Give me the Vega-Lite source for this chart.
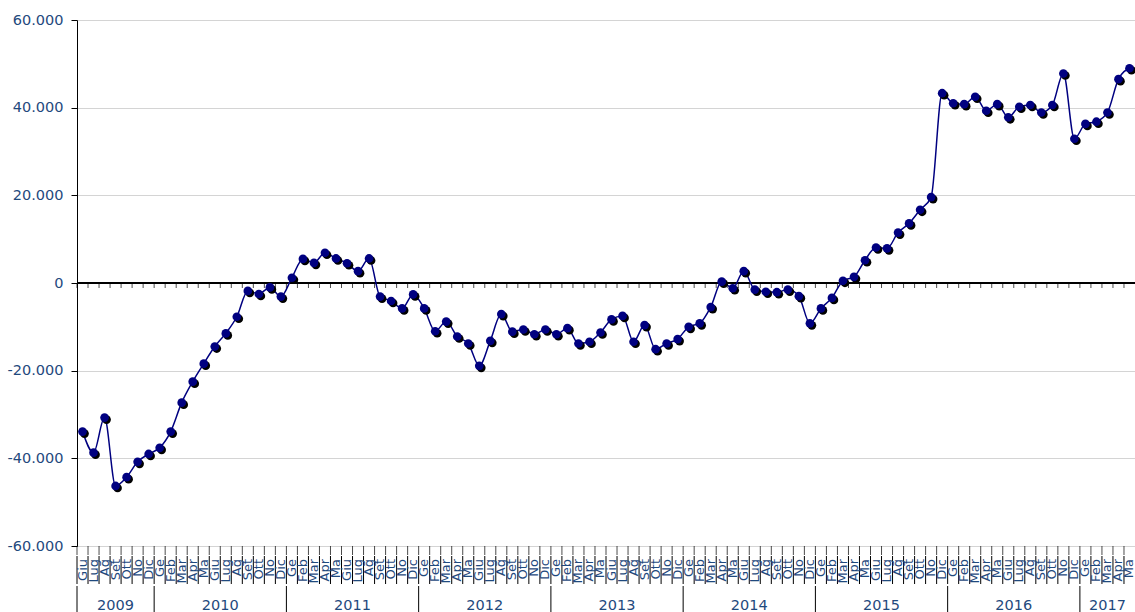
{
  "$schema": "https://vega.github.io/schema/vega-lite/v6.json",
  "padding": {"left": 7, "top": 12, "right": 0, "bottom": 0},
  "background": "white",
  "config": {
    "view": {"stroke": null},
    "locale": {"number": {"decimal": ",", "thousands": ".", "grouping": [3], "currency": ["€", ""], "minus": "-"}},
    "concat": {"spacing": 0}
  },
  "datasets": {
    "serie": [
      {"i": 0, "anno": "2009", "mese": "Giu", "v": -33900},
      {"i": 1, "anno": "2009", "mese": "Lug", "v": -38700},
      {"i": 2, "anno": "2009", "mese": "Ag", "v": -30700},
      {"i": 3, "anno": "2009", "mese": "Set", "v": -46300},
      {"i": 4, "anno": "2009", "mese": "Ott", "v": -44300},
      {"i": 5, "anno": "2009", "mese": "No", "v": -40800},
      {"i": 6, "anno": "2009", "mese": "Dic", "v": -39000},
      {"i": 7, "anno": "2010", "mese": "Ge", "v": -37600},
      {"i": 8, "anno": "2010", "mese": "Feb", "v": -33900},
      {"i": 9, "anno": "2010", "mese": "Mar", "v": -27300},
      {"i": 10, "anno": "2010", "mese": "Apr", "v": -22500},
      {"i": 11, "anno": "2010", "mese": "Ma", "v": -18400},
      {"i": 12, "anno": "2010", "mese": "Giu", "v": -14500},
      {"i": 13, "anno": "2010", "mese": "Lug", "v": -11500},
      {"i": 14, "anno": "2010", "mese": "Ag", "v": -7700},
      {"i": 15, "anno": "2010", "mese": "Set", "v": -1800},
      {"i": 16, "anno": "2010", "mese": "Ott", "v": -2500},
      {"i": 17, "anno": "2010", "mese": "No", "v": -1000},
      {"i": 18, "anno": "2010", "mese": "Dic", "v": -3100},
      {"i": 19, "anno": "2011", "mese": "Ge", "v": 1200},
      {"i": 20, "anno": "2011", "mese": "Feb", "v": 5500},
      {"i": 21, "anno": "2011", "mese": "Mar", "v": 4600},
      {"i": 22, "anno": "2011", "mese": "Apr", "v": 6900},
      {"i": 23, "anno": "2011", "mese": "Ma", "v": 5600},
      {"i": 24, "anno": "2011", "mese": "Giu", "v": 4500},
      {"i": 25, "anno": "2011", "mese": "Lug", "v": 2700},
      {"i": 26, "anno": "2011", "mese": "Ag", "v": 5600},
      {"i": 27, "anno": "2011", "mese": "Set", "v": -3100},
      {"i": 28, "anno": "2011", "mese": "Ott", "v": -4100},
      {"i": 29, "anno": "2011", "mese": "No", "v": -5800},
      {"i": 30, "anno": "2011", "mese": "Dic", "v": -2600},
      {"i": 31, "anno": "2012", "mese": "Ge", "v": -5800},
      {"i": 32, "anno": "2012", "mese": "Feb", "v": -11000},
      {"i": 33, "anno": "2012", "mese": "Mar", "v": -8800},
      {"i": 34, "anno": "2012", "mese": "Apr", "v": -12200},
      {"i": 35, "anno": "2012", "mese": "Ma", "v": -13800},
      {"i": 36, "anno": "2012", "mese": "Giu", "v": -18900},
      {"i": 37, "anno": "2012", "mese": "Lug", "v": -13200},
      {"i": 38, "anno": "2012", "mese": "Ag", "v": -7100},
      {"i": 39, "anno": "2012", "mese": "Set", "v": -11100},
      {"i": 40, "anno": "2012", "mese": "Ott", "v": -10600},
      {"i": 41, "anno": "2012", "mese": "No", "v": -11700},
      {"i": 42, "anno": "2012", "mese": "Dic", "v": -10600},
      {"i": 43, "anno": "2013", "mese": "Ge", "v": -11700},
      {"i": 44, "anno": "2013", "mese": "Feb", "v": -10300},
      {"i": 45, "anno": "2013", "mese": "Mar", "v": -13800},
      {"i": 46, "anno": "2013", "mese": "Apr", "v": -13400},
      {"i": 47, "anno": "2013", "mese": "Ma", "v": -11300},
      {"i": 48, "anno": "2013", "mese": "Giu", "v": -8300},
      {"i": 49, "anno": "2013", "mese": "Lug", "v": -7500},
      {"i": 50, "anno": "2013", "mese": "Ag", "v": -13400},
      {"i": 51, "anno": "2013", "mese": "Set", "v": -9600},
      {"i": 52, "anno": "2013", "mese": "Ott", "v": -15100},
      {"i": 53, "anno": "2013", "mese": "No", "v": -13800},
      {"i": 54, "anno": "2013", "mese": "Dic", "v": -12800},
      {"i": 55, "anno": "2014", "mese": "Ge", "v": -10000},
      {"i": 56, "anno": "2014", "mese": "Feb", "v": -9200},
      {"i": 57, "anno": "2014", "mese": "Mar", "v": -5500},
      {"i": 58, "anno": "2014", "mese": "Apr", "v": 300},
      {"i": 59, "anno": "2014", "mese": "Ma", "v": -1200},
      {"i": 60, "anno": "2014", "mese": "Giu", "v": 2700},
      {"i": 61, "anno": "2014", "mese": "Lug", "v": -1500},
      {"i": 62, "anno": "2014", "mese": "Ag", "v": -2000},
      {"i": 63, "anno": "2014", "mese": "Set", "v": -2100},
      {"i": 64, "anno": "2014", "mese": "Ott", "v": -1500},
      {"i": 65, "anno": "2014", "mese": "No", "v": -3000},
      {"i": 66, "anno": "2014", "mese": "Dic", "v": -9200},
      {"i": 67, "anno": "2015", "mese": "Ge", "v": -5800},
      {"i": 68, "anno": "2015", "mese": "Feb", "v": -3400},
      {"i": 69, "anno": "2015", "mese": "Mar", "v": 500},
      {"i": 70, "anno": "2015", "mese": "Apr", "v": 1400},
      {"i": 71, "anno": "2015", "mese": "Ma", "v": 5200},
      {"i": 72, "anno": "2015", "mese": "Giu", "v": 8100},
      {"i": 73, "anno": "2015", "mese": "Lug", "v": 7900},
      {"i": 74, "anno": "2015", "mese": "Ag", "v": 11500},
      {"i": 75, "anno": "2015", "mese": "Set", "v": 13600},
      {"i": 76, "anno": "2015", "mese": "Ott", "v": 16700},
      {"i": 77, "anno": "2015", "mese": "No", "v": 19600},
      {"i": 78, "anno": "2015", "mese": "Dic", "v": 43300},
      {"i": 79, "anno": "2016", "mese": "Ge", "v": 41000},
      {"i": 80, "anno": "2016", "mese": "Feb", "v": 40800},
      {"i": 81, "anno": "2016", "mese": "Mar", "v": 42500},
      {"i": 82, "anno": "2016", "mese": "Apr", "v": 39300},
      {"i": 83, "anno": "2016", "mese": "Ma", "v": 40800},
      {"i": 84, "anno": "2016", "mese": "Giu", "v": 37800},
      {"i": 85, "anno": "2016", "mese": "Lug", "v": 40200},
      {"i": 86, "anno": "2016", "mese": "Ag", "v": 40600},
      {"i": 87, "anno": "2016", "mese": "Set", "v": 38900},
      {"i": 88, "anno": "2016", "mese": "Ott", "v": 40600},
      {"i": 89, "anno": "2016", "mese": "No", "v": 47800},
      {"i": 90, "anno": "2016", "mese": "Dic", "v": 32900},
      {"i": 91, "anno": "2017", "mese": "Ge", "v": 36300},
      {"i": 92, "anno": "2017", "mese": "Feb", "v": 36800},
      {"i": 93, "anno": "2017", "mese": "Mar", "v": 38900},
      {"i": 94, "anno": "2017", "mese": "Apr", "v": 46500},
      {"i": 95, "anno": "2017", "mese": "Ma", "v": 49000}
    ]
  },
  "resolve": {"scale": {"x": "shared"}},
  "vconcat": [
    {
      "width": 1058,
      "height": 526,
      "data": {"name": "serie"},
      "layer": [
        {
          "mark": {"type": "rule", "color": "black", "strokeWidth": 1},
          "encoding": {
            "y": {"datum": 0, "type": "quantitative",
              "scale": {"domain": [-60000, 60000], "nice": false},
              "axis": {
                "values": [-60000, -40000, -20000, 0, 20000, 40000, 60000],
                "format": ",.0f",
                "title": null,
                "grid": true,
                "gridColor": "#d4d4d4",
                "gridWidth": 1,
                "domainColor": "black",
                "domainWidth": 1,
                "tickColor": "black",
                "tickSize": 6,
                "labelFont": "DejaVu Sans",
                "labelFontSize": 14.5,
                "labelColor": "#1f497d",
                "labelPadding": 8
              }
            }
          }
        },
        {
          "mark": {"type": "tick", "orient": "vertical", "color": "black", "size": 5, "thickness": 1, "xOffset": -5.51, "yOffset": 2.5},
          "encoding": {
            "x": {"field": "i", "type": "quantitative", "scale": {"domain": [-0.5, 95.5], "nice": false, "zero": false}, "axis": null},
            "y": {"datum": 0, "type": "quantitative"}
          }
        },
        {
          "mark": {"type": "tick", "orient": "vertical", "color": "black", "size": 9, "thickness": 1, "xOffset": -5.51, "yOffset": 4.5},
          "encoding": {
            "x": {"field": "i", "type": "quantitative", "axis": null},
            "y": {"datum": -60000, "type": "quantitative"}
          }
        },
        {
          "mark": {"type": "line", "color": "#000080", "strokeWidth": 1.5, "interpolate": "monotone"},
          "encoding": {
            "x": {"field": "i", "type": "quantitative", "axis": null},
            "y": {"field": "v", "type": "quantitative"}
          }
        },
        {
          "mark": {"type": "point", "filled": true, "color": "black", "opacity": 1, "size": 75, "xOffset": 2, "yOffset": 2},
          "encoding": {
            "x": {"field": "i", "type": "quantitative", "axis": null},
            "y": {"field": "v", "type": "quantitative"}
          }
        },
        {
          "mark": {"type": "point", "filled": true, "color": "#000080", "opacity": 1, "size": 75},
          "encoding": {
            "x": {"field": "i", "type": "quantitative", "axis": null},
            "y": {"field": "v", "type": "quantitative"}
          }
        }
      ]
    },
    {
      "width": 1058,
      "height": 28,
      "data": {"name": "serie"},
      "layer": [
        {
          "mark": {"type": "rule", "color": "black", "strokeWidth": 1, "xOffset": -5.51},
          "encoding": {
            "x": {"field": "i", "type": "quantitative", "axis": null}
          }
        },
        {
          "mark": {"type": "text", "angle": 270, "align": "right", "baseline": "middle", "font": "DejaVu Sans", "fontSize": 13, "color": "#1f497d", "yOffset": -11},
          "encoding": {
            "x": {"field": "i", "type": "quantitative", "axis": null},
            "text": {"field": "mese", "type": "nominal"}
          }
        }
      ]
    },
    {
      "width": 1058,
      "height": 40,
      "data": {"name": "serie"},
      "layer": [
        {
          "mark": {"type": "rule", "color": "black", "strokeWidth": 1, "xOffset": -5.51},
          "encoding": {
            "x": {"aggregate": "min", "field": "i", "type": "quantitative", "axis": null},
            "detail": {"field": "anno", "type": "nominal"}
          }
        },
        {
          "mark": {"type": "text", "align": "center", "baseline": "middle", "font": "DejaVu Sans", "fontSize": 14.5, "color": "#1f497d"},
          "encoding": {
            "x": {"aggregate": "mean", "field": "i", "type": "quantitative", "axis": null},
            "text": {"field": "anno", "type": "nominal"}
          }
        }
      ]
    }
  ]
}
